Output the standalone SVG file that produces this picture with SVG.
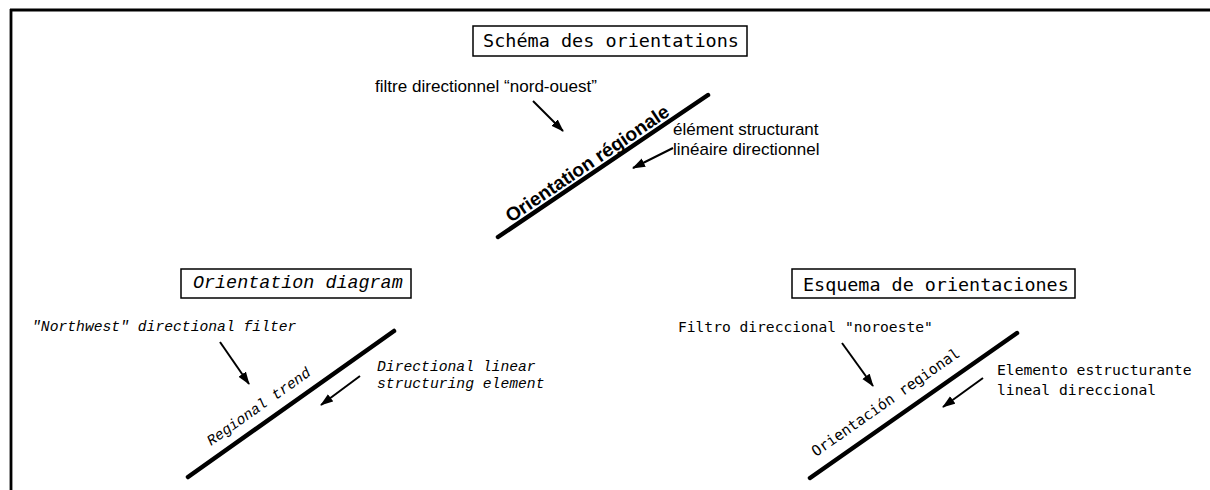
<svg xmlns="http://www.w3.org/2000/svg" width="1210" height="490" viewBox="0 0 1210 490">
<defs>
<marker id="ah" markerWidth="13" markerHeight="10" refX="12" refY="4.5" orient="auto" markerUnits="userSpaceOnUse">
<path d="M0,0 L13,4.5 L0,9 Z" fill="#000"/>
</marker>
<style>
.frame{stroke:#000;stroke-width:2.8;fill:none}
.box{fill:#fff;stroke:#000;stroke-width:1.5}
.trend{stroke:#000;stroke-width:4.5;stroke-linecap:round}
.arr{stroke:#000;stroke-width:2;fill:none;marker-end:url(#ah)}
.mono{font-family:"DejaVu Sans Mono","Liberation Mono",monospace;fill:#000}
.cour{font-family:"Liberation Mono","Courier New",monospace;font-style:italic;fill:#000}
.sans{font-family:"Liberation Sans",Arial,sans-serif;fill:#000}
</style>
</defs>
<rect width="1210" height="490" fill="#fff"/>
<g id="frame">
<path class="frame" d="M10,10 H1210 M11,9 V490"/>
</g>
<g id="connectors">
<line class="trend" x1="498" y1="237" x2="708" y2="95"/>
<line class="arr" x1="533" y1="101" x2="563" y2="131"/>
<line class="arr" x1="673" y1="148" x2="633" y2="168"/>
<line class="trend" x1="188" y1="477" x2="394" y2="331"/>
<line class="arr" x1="220" y1="342" x2="249" y2="384"/>
<line class="arr" x1="360" y1="376" x2="321" y2="405"/>
<line class="trend" x1="810" y1="478" x2="1017" y2="333"/>
<line class="arr" x1="842" y1="343" x2="873" y2="386"/>
<line class="arr" x1="983" y1="378" x2="943" y2="407"/>
</g>
<g id="fr-title">
<rect class="box" x="473" y="26" width="274" height="30"/>
<text class="mono" x="483" y="47" font-size="18.4" textLength="256" lengthAdjust="spacingAndGlyphs">Schéma des orientations</text>
</g>
<g id="fr-filter">
<text class="sans" x="375" y="92" font-size="17" textLength="222" lengthAdjust="spacingAndGlyphs">filtre directionnel “nord-ouest”</text>
</g>
<g id="fr-trend">
<text class="sans" x="511" y="223" font-size="19" font-weight="bold" textLength="193" lengthAdjust="spacingAndGlyphs" transform="rotate(-34.1 511 223)">Orientation régionale</text>
</g>
<g id="fr-element">
<text class="sans" x="673" y="135" font-size="17">élément structurant</text>
<text class="sans" x="673" y="155" font-size="17">linéaire directionnel</text>
</g>
<g id="en-title">
<rect class="box" x="181" y="269" width="230" height="29"/>
<text class="cour" x="193" y="288" font-size="18.4">Orientation diagram</text>
</g>
<g id="en-filter">
<text class="cour" x="32" y="331" font-size="14.7">"Northwest" directional filter</text>
</g>
<g id="en-trend">
<text class="cour" x="211" y="446" font-size="14.7" transform="rotate(-35.3 211 446)">Regional trend</text>
</g>
<g id="en-element">
<text class="cour" x="377" y="371" font-size="14.7">Directional linear</text>
<text class="cour" x="377" y="388" font-size="14.7">structuring element</text>
</g>
<g id="es-title">
<rect class="box" x="792" y="269" width="283" height="29"/>
<text class="mono" x="803" y="291" font-size="18.4">Esquema de orientaciones</text>
</g>
<g id="es-filter">
<text class="mono" x="678" y="332" font-size="14.6">Filtro direccional "noroeste"</text>
</g>
<g id="es-trend">
<text class="mono" x="816" y="457" font-size="14.7" transform="rotate(-35 816 457)">Orientación regional</text>
</g>
<g id="es-element">
<text class="mono" x="997" y="375" font-size="14.7">Elemento estructurante</text>
<text class="mono" x="997" y="395" font-size="14.7">lineal direccional</text>
</g>
</svg>
